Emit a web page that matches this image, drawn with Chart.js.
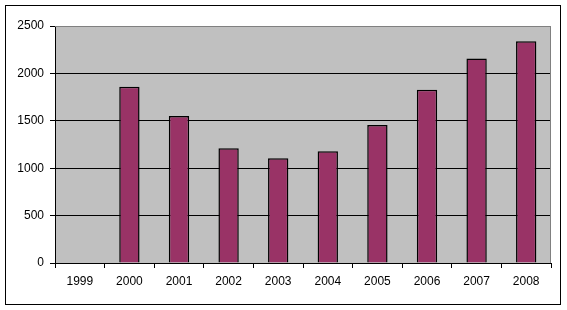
<!DOCTYPE html>
<html>
<head>
<meta charset="utf-8">
<script src="https://cdn.jsdelivr.net/npm/chart.js@4"></script>
<style>
  html, body { margin: 0; padding: 0; background: #fff; }
  canvas { display: block; }
</style>
</head>
<body>
<canvas id="chart" width="567" height="310"></canvas>
<script>
// ====== DATA ======
const years = ["1999", "2000", "2001", "2002", "2003", "2004", "2005", "2006", "2007", "2008"];
const values = [null, 1860, 1550, 1210, 1105, 1180, 1455, 1828, 2158, 2338];
const yTicks = [0, 500, 1000, 1500, 2000, 2500];

// ====== PLUGINS ======
const plotBg = {
  id: "plotBg",
  beforeDraw(chart) {
    const { ctx, chartArea: a } = chart;
    ctx.save();
    ctx.fillStyle = "#c0c0c0";
    ctx.fillRect(a.left, a.top, a.right - a.left, a.bottom - a.top);
    ctx.restore();
  },
  afterDraw(chart) {
    const { ctx, chartArea: a } = chart;
    ctx.save();
    ctx.strokeStyle = "#808080";
    ctx.lineWidth = 1;
    ctx.beginPath();
    ctx.moveTo(a.left, a.top + 0.5);
    ctx.lineTo(a.right - 0.5, a.top + 0.5);
    ctx.lineTo(a.right - 0.5, a.bottom);
    ctx.stroke();
    // outer frame
    ctx.strokeStyle = "#000";
    ctx.strokeRect(5.5, 5.5, 555, 299);
    ctx.restore();
  }
};

// ====== CHART ======
Chart.defaults.font.family = "'Liberation Sans', Arial, sans-serif";
Chart.defaults.font.size = 12;
Chart.defaults.color = "#000";

new Chart(document.getElementById("chart"), {
  type: "bar",
  data: {
    labels: years,
    datasets: [{
      data: values,
      backgroundColor: "#993366",
      borderColor: "#000",
      borderWidth: 1.5,
      barPercentage: 0.41,
      categoryPercentage: 1
    }]
  },
  options: {
    responsive: false,
    animation: false,
    devicePixelRatio: 1,
    layout: { padding: { left: 0, top: 26, right: 16, bottom: 0 } },
    plugins: { legend: { display: false }, tooltip: { enabled: false } },
    scales: {
      x: {
        afterFit: s => { s.height = 47; },
        grid: {
          offset: true,
          drawOnChartArea: false,
          tickLength: 5,
          tickColor: "#000"
        },
        border: { color: "#000" },
        ticks: { padding: 6 }
      },
      y: {
        min: 0,
        max: 2500,
        afterFit: s => { s.width = 55; },
        afterBuildTicks: s => { s.ticks = yTicks.map(v => ({ value: v })); },
        grid: {
          color: c => (c.tick && c.tick.value === 2500) ? "#808080" : "#000",
          tickColor: "#000",
          tickLength: 5
        },
        border: { color: "#000" },
        ticks: { padding: 6, callback: v => String(v) }
      }
    }
  },
  plugins: [plotBg]
});
</script>
</body>
</html>
